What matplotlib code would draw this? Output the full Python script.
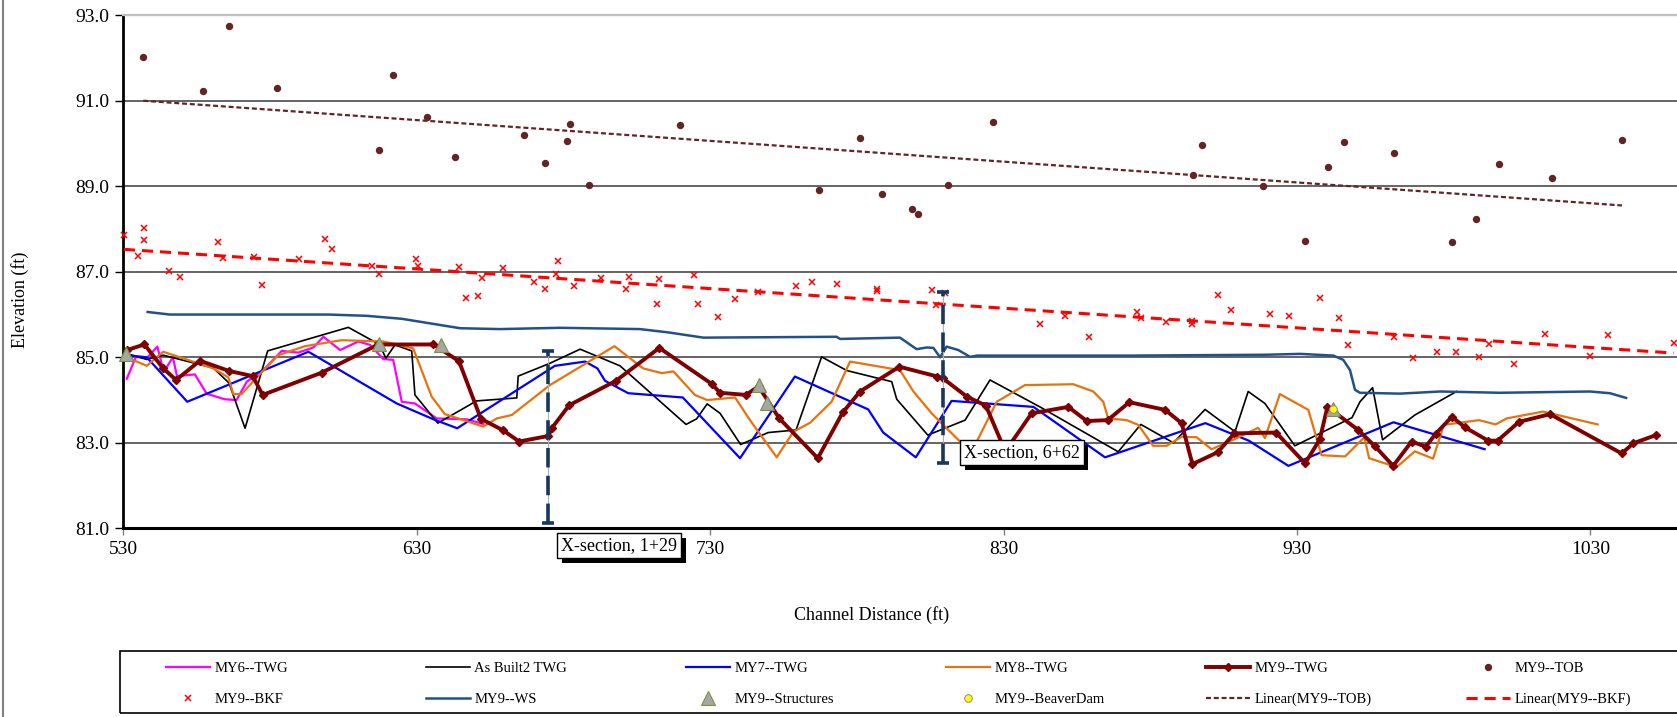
import numpy as np
import matplotlib
matplotlib.use("Agg")
import matplotlib.pyplot as plt
from matplotlib.lines import Line2D
from matplotlib.patches import Rectangle
import matplotlib.patheffects as pe

plt.rcParams['font.family'] = ['Liberation Serif', 'DejaVu Serif']
plt.rcParams['lines.scale_dashes'] = False

# ---------------- data ----------------
x_ticks = [530, 630, 730, 830, 930, 1030]
y_ticks = [81, 83, 85, 87, 89, 91, 93]

my6_x = [531.2, 534.3, 538.0, 541.6, 543.8, 546.9, 548.3, 554.4, 558.4, 564.4, 568.6, 572.1, 577.7,
         584.0, 589.6, 594.8, 598.2, 603.9, 610.1, 614.1, 618.6, 622.0, 624.9, 629.4, 636.8, 647.0, 652.7]
my6_y = [84.50, 85.01, 84.98, 85.25, 84.66, 85.00, 84.56, 84.60, 84.15, 84.02, 84.00, 84.43, 84.70,
         85.15, 85.11, 85.23, 85.48, 85.17, 85.37, 85.29, 84.96, 84.94, 83.96, 83.92, 83.57, 83.55, 83.44]

ab2_x = [530.5, 538.0, 543.6, 560.7, 566.0, 571.5, 579.2, 606.7, 617.3, 619.5, 622.6, 628.3, 629.4,
         637.2, 650.4, 664.1, 664.6, 675.4, 685.7, 699.3, 721.8, 725.4, 729.0, 733.4, 740.4, 749.8,
         759.3, 768.0, 776.6, 791.9, 793.6, 804.2, 816.9, 825.4, 842.4, 869.1, 876.8, 887.9, 898.7,
         908.9, 913.4, 919.1, 929.3, 948.8, 951.5, 955.8, 959.2, 970.2, 984.4]
ab2_y = [85.10, 84.95, 85.05, 84.75, 84.40, 83.34, 85.15, 85.70, 85.30, 84.98, 85.29, 85.15, 84.12,
         83.46, 83.98, 84.05, 84.56, 84.86, 85.19, 84.80, 83.43, 83.56, 83.91, 83.69, 82.96, 83.24,
         83.30, 85.01, 84.69, 84.43, 84.02, 83.18, 83.53, 84.47, 83.84, 82.79, 83.43, 83.00, 83.78,
         83.26, 84.20, 83.92, 82.93, 83.59, 83.96, 84.29, 83.07, 83.65, 84.20]

my7_x = [531.2, 538.0, 551.8, 593.1, 623.2, 635.7, 643.8, 677.1, 687.4, 691.6, 694.2, 702.1, 720.7,
         740.2, 758.9, 783.9, 789.0, 800.1, 812.3, 840.2, 864.6, 898.8, 913.6, 927.1, 962.9, 994.0]
my7_y = [85.05, 85.00, 83.96, 85.13, 83.92, 83.55, 83.34, 84.80, 84.90, 84.74, 84.45, 84.16, 84.06,
         82.64, 84.55, 83.78, 83.24, 82.66, 83.98, 83.84, 82.66, 83.46, 83.05, 82.46, 83.48, 82.85]

my8_x = [531.2, 538.0, 543.6, 560.7, 565.8, 567.5, 570.3, 575.5, 582.8, 591.9, 604.4, 618.6, 628.8,
         635.1, 639.6, 652.7, 657.3, 662.4, 675.4, 697.4, 707.2, 713.5, 717.5, 724.8, 729.0, 738.5,
         743.6, 752.7, 758.4, 764.1, 771.4, 777.7, 794.7, 799.3, 805.5, 811.8, 819.0, 827.7, 837.3,
         853.8, 860.6, 864.0, 865.7, 872.0, 875.9, 881.0, 885.6, 890.7, 895.8, 900.9, 908.3, 916.8,
         919.1, 924.2, 933.9, 938.4, 946.4, 953.0, 954.6, 964.0, 970.2, 976.4, 980.1, 992.1, 997.7,
         1001.5, 1013.9, 1032.5]
my8_y = [85.00, 84.80, 85.13, 84.74, 84.53, 84.14, 84.14, 84.53, 85.05, 85.26, 85.40, 85.37, 85.21,
         84.08, 83.67, 83.38, 83.57, 83.65, 84.35, 85.26, 84.74, 84.63, 84.67, 84.12, 84.00, 84.06,
         83.53, 82.66, 83.26, 83.47, 83.96, 84.90, 84.70, 84.20, 83.69, 83.26, 82.77, 83.96, 84.35,
         84.37, 84.20, 83.96, 83.57, 83.53, 83.42, 82.93, 82.93, 83.14, 83.13, 82.85, 83.07, 83.35,
         83.11, 84.14, 83.77, 82.71, 82.68, 83.13, 82.64, 82.43, 82.80, 82.63, 83.42, 83.53, 83.43,
         83.57, 83.73, 83.43]

my9_x = [531.3, 537.2, 543.6, 548.0, 556.1, 566.1, 574.1, 577.5, 597.6, 616.9, 635.7, 644.4, 651.9,
         659.5, 664.9, 674.9, 676.0, 682.0, 697.9, 712.7, 730.5, 733.4, 742.2, 746.5, 753.6, 766.7,
         775.2, 781.1, 794.5, 807.5, 809.3, 817.5, 824.0, 830.6, 839.6, 852.1, 858.4, 865.5, 872.9,
         885.1, 890.7, 894.4, 903.0, 908.7, 922.9, 932.8, 937.8, 940.4, 950.9, 956.6, 962.8, 969.1,
         973.9, 977.3, 982.8, 987.3, 995.2, 998.4, 1005.7, 1016.3, 1040.7, 1044.7, 1052.4]
my9_y = [85.17, 85.30, 84.74, 84.47, 84.92, 84.68, 84.56, 84.12, 84.64, 85.30, 85.30, 84.91, 83.56,
         83.29, 83.03, 83.16, 83.34, 83.88, 84.45, 85.22, 84.38, 84.17, 84.12, 84.32, 83.57, 82.64,
         83.71, 84.20, 84.78, 84.55, 84.51, 84.08, 83.87, 82.80, 83.69, 83.84, 83.51, 83.53, 83.95,
         83.77, 83.46, 82.50, 82.78, 83.22, 83.24, 82.52, 83.08, 83.84, 83.30, 82.92, 82.46, 83.03,
         82.91, 83.21, 83.61, 83.36, 83.05, 83.05, 83.49, 83.67, 82.75, 82.99, 83.18]

tob_x = [536.8, 557.1, 565.9, 582.3, 617.3, 622.0, 633.6, 643.2, 666.6, 673.6, 681.1, 682.1, 688.8,
         719.8, 767.0, 781.1, 788.6, 798.8, 800.8, 811.2, 826.3, 894.6, 897.8, 918.5, 932.7, 940.5,
         945.9, 963.0, 982.8, 991.2, 999.0, 1017.0, 1040.8]
tob_y = [92.02, 91.22, 92.76, 91.29, 89.85, 91.60, 90.62, 89.68, 90.21, 89.55, 90.05, 90.46, 89.03,
         90.43, 88.92, 90.13, 88.83, 88.48, 88.36, 89.03, 90.51, 89.27, 89.96, 89.00, 87.71, 89.44,
         90.03, 89.78, 87.70, 88.24, 89.51, 89.19, 90.08]

bkf_x = [530.2, 534.9, 537.1, 537.1, 545.6, 549.3, 562.3, 564.1, 574.6, 577.4, 589.9, 598.6, 601.2,
         614.7, 617.3, 629.8, 630.5, 644.3, 646.8, 650.8, 652.4, 659.3, 670.1, 673.7, 677.4, 678.2,
         683.6, 692.8, 701.2, 702.4, 712.0, 712.7, 724.6, 725.8, 732.7, 738.5, 746.4, 759.2, 764.8,
         773.2, 786.9, 787.0, 805.5, 806.9, 810.0, 842.5, 850.9, 859.2, 875.4, 876.8, 885.3, 894.3,
         894.3, 903.0, 907.4, 920.9, 927.3, 937.8, 944.2, 947.5, 963.2, 969.7, 977.9, 984.1, 992.0,
         995.5, 1004.1, 1014.5, 1030.0, 1036.0, 1058.4]
bkf_y = [87.87, 87.38, 88.02, 87.75, 87.02, 86.89, 87.69, 87.32, 87.35, 86.69, 87.29, 87.76, 87.53,
         87.14, 86.94, 87.30, 87.14, 87.12, 86.39, 86.43, 86.85, 87.08, 86.75, 86.60, 86.94, 87.26,
         86.67, 86.86, 86.60, 86.89, 86.24, 86.83, 86.93, 86.25, 85.94, 86.36, 86.52, 86.67, 86.75,
         86.71, 86.60, 86.56, 86.57, 86.22, 86.51, 85.79, 85.96, 85.48, 86.05, 85.92, 85.82, 85.78,
         85.85, 86.46, 86.11, 86.01, 85.96, 86.39, 85.93, 85.29, 85.47, 84.99, 85.13, 85.12, 85.01,
         85.31, 84.85, 85.55, 85.04, 85.51, 85.34]

ws_x = [538.3, 545.9, 560.0, 578.9, 600.0, 613.0, 625.0, 644.8, 658.4, 678.8, 706.1, 716.0, 727.7,
        773.1, 774.3, 794.7, 800.4, 803.8, 806.1, 808.4, 810.6, 814.6, 818.6, 821.0, 874.2, 919.7,
        931.1, 942.4, 945.8, 948.1, 949.8, 951.5, 965.1, 978.8, 999.2, 1029.9, 1036.7, 1042.2]
ws_y = [86.06, 86.00, 86.00, 86.00, 86.00, 85.97, 85.90, 85.68, 85.66, 85.69, 85.66, 85.58, 85.46,
        85.48, 85.43, 85.46, 85.19, 85.23, 85.22, 85.00, 85.25, 85.17, 85.01, 85.04, 85.04, 85.06,
        85.08, 85.04, 84.94, 84.70, 84.24, 84.17, 84.15, 84.20, 84.17, 84.20, 84.16, 84.05]

struct_x = [530.9, 617.3, 638.2, 746.8, 749.5, 942.2]
struct_y = [85.08, 85.31, 85.29, 84.35, 83.94, 83.78]

beaver_x = [942.2]
beaver_y = [83.78]

xsec_x = [674.9, 809.3]
xsec_lo = [81.13, 82.52]
xsec_hi = [85.15, 86.52]
xsec_labels = ["X-section, 1+29", "X-section, 6+62"]

# ---------------- figure ----------------
W, H = 1677, 717
fig = plt.figure(figsize=(W / 100, H / 100), dpi=100)
X0, Y_TOP, Y_BOT = 123.3, 15.3, 528.3
PX_PER_FT = 2.934
ax = fig.add_axes([X0 / W, 1 - Y_BOT / H, (W - X0) / W, (Y_BOT - Y_TOP) / H])
ax.set_xlim(530, 530 + (W - X0) / PX_PER_FT)
ax.set_ylim(81, 93)

ax.set_xticks(x_ticks)
ax.set_xticklabels([str(v) for v in x_ticks])
ax.set_yticks(y_ticks)
ax.set_yticklabels([f"{v:.1f}" for v in y_ticks])
ax.tick_params(axis='both', labelsize=14, colors='#000000')
ax.tick_params(axis='x', length=5, width=1, color='#808080', pad=4)
ax.tick_params(axis='y', length=6, width=1, color='#000000', pad=4)

ax.grid(axis='y', color='#3a3a3a', linewidth=1.1, zorder=0)
ax.set_axisbelow(True)
gl = ax.yaxis.get_gridlines()
gl[-1].set_color('#c0c0c0')
gl[-1].set_linewidth(1.6)
ax.spines['right'].set_visible(False)
ax.spines['top'].set_color('#c0c0c0')
ax.spines['top'].set_linewidth(1.6)
ax.spines['left'].set_linewidth(2.0)
ax.spines['bottom'].set_linewidth(2.2)

handles = {}
handles['MY6--TWG'], = ax.plot(my6_x, my6_y, color='#ff00ff', lw=1.6, zorder=3)
handles['As Built2 TWG'], = ax.plot(ab2_x, ab2_y, color='#000000', lw=1.2, zorder=3)
handles['MY7--TWG'], = ax.plot(my7_x, my7_y, color='#0000ff', lw=1.6, zorder=3)
handles['MY8--TWG'], = ax.plot(my8_x, my8_y, color='#e8730c', lw=1.6, zorder=3)
handles['MY9--TWG'], = ax.plot(my9_x, my9_y, color='#7f0000', lw=2.8, marker='D',
                               markersize=4.5, zorder=4)
handles['MY9--TOB'], = ax.plot(tob_x, tob_y, ls='none', marker='o', markersize=4.3,
                               color='#632523', zorder=5, clip_on=False)
handles['MY9--BKF'], = ax.plot(bkf_x, bkf_y, ls='none', marker='x', markersize=5,
                               markeredgewidth=1.1, color='#ff0000', zorder=5, clip_on=False)
handles['MY9--WS'], = ax.plot(ws_x, ws_y, color='#24508a', lw=1.8, zorder=4)

# trend lines (least squares, like Excel "Linear")
tob_fit = np.polyfit(tob_x, tob_y, 1)
bkf_fit = np.polyfit(bkf_x, bkf_y, 1)
tx = np.array([min(tob_x), max(tob_x)])
bx = np.array([min(bkf_x), max(bkf_x)])
handles['Linear(MY9--TOB)'], = ax.plot(tx, np.polyval(tob_fit, tx), color='#632523', lw=1.6,
                                       dashes=(3.6, 2.0), zorder=6)
handles['Linear(MY9--BKF)'], = ax.plot(bx, np.polyval(bkf_fit, bx), color='#ff0000', lw=2.2,
                                       dashes=(8.0, 5.0), zorder=6)

# cross-section markers
ax.vlines(xsec_x, xsec_lo, xsec_hi, color='#b0b0b0', lw=0.8, zorder=7)
ax.vlines(xsec_x, xsec_lo, xsec_hi, color='#17375e', lw=2.6, linestyles=(0, (14, 6)), zorder=7)
ax.plot(xsec_x, xsec_lo, ls='none', marker='_', markersize=8, markeredgewidth=2.6,
        color='#17375e', zorder=7, clip_on=False)
ax.plot(xsec_x, xsec_hi, ls='none', marker='_', markersize=8, markeredgewidth=2.6,
        color='#17375e', zorder=7, clip_on=False)

handles['MY9--Structures'], = ax.plot(struct_x, struct_y, ls='none', marker='^', markersize=10,
                                      markerfacecolor='#a6a6a6', markeredgecolor='#77933c',
                                      markeredgewidth=0.8, zorder=8, clip_on=False)
handles['MY9--BeaverDam'], = ax.plot(beaver_x, beaver_y, ls='none', marker='o', markersize=5.5,
                                     markerfacecolor='#ffff00', markeredgecolor='#8c8c8c',
                                     markeredgewidth=0.7, zorder=9, clip_on=False)

# x-section labels with a drop shadow on the box
label_pos = [(699.0, 80.59), (836.2, 82.78)]
for (lx, ly), txt in zip(label_pos, xsec_labels):
    t = ax.text(lx, ly, txt, fontsize=13, ha='center', va='center', color='#000000',
                bbox=dict(boxstyle='square,pad=0.22', fc='#ffffff', ec='#000000', lw=1),
                zorder=11, clip_on=False)
    t.get_bbox_patch().set_path_effects([
        pe.SimplePatchShadow(offset=(3.5, -3.5), shadow_rgbFace='#000000', alpha=1.0),
        pe.Normal()])

# axis titles
fig.text(872 / W, 1 - 615 / H, "Channel Distance (ft)", fontsize=13, ha='center', va='center')
fig.text(20 / W, 1 - 300 / H, "Elevation (ft)", fontsize=13, ha='center', va='center', rotation=90)

# chart border at left edge
fig.add_artist(Line2D([2.5 / W, 2.5 / W], [0, 1], transform=fig.transFigure, color='#808080', lw=1.5))

# legend frame
fig.add_artist(Rectangle((120 / W, 1 - 713 / H), (1720 - 120) / W, 62 / H, transform=fig.transFigure,
                         fill=False, ec='#000000', lw=1.2))

columns = [['MY6--TWG', 'MY9--BKF'], ['As Built2 TWG', 'MY9--WS'], ['MY7--TWG', 'MY9--Structures'],
           ['MY8--TWG', 'MY9--BeaverDam'], ['MY9--TWG', 'Linear(MY9--TOB)'],
           ['MY9--TOB', 'Linear(MY9--BKF)']]
for i, col in enumerate(columns):
    x_px = 166 + 260 * i
    fig.legend([handles[k] for k in col], col, loc='upper left',
               bbox_to_anchor=(x_px / W, 1 - 662 / H), frameon=False, fontsize=10.5,
               handlelength=3.0, handletextpad=0.3, borderpad=0, borderaxespad=0,
               labelspacing=1.2, numpoints=1)

fig.savefig("out.png", dpi=100)
